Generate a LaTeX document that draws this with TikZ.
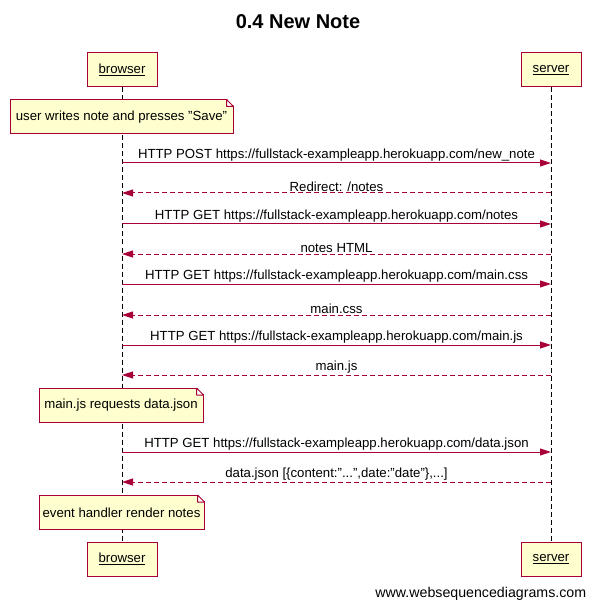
\documentclass[tikz,border=0pt]{standalone}
\usepackage{fontspec}
\setmainfont{Liberation Sans}
\usetikzlibrary{arrows.meta,backgrounds}
\definecolor{wsdred}{HTML}{A80036}
\definecolor{wsdfill}{HTML}{FEFECE}

% cut and fold the top right corner of a note node
\newcommand{\notefold}[1]{%
  \fill[white] ([xshift=-7pt,yshift=1pt]#1.north east) -- ([xshift=1pt,yshift=1pt]#1.north east)
    -- ([xshift=1pt,yshift=-7pt]#1.north east) -- cycle;
  \draw[wsdred, fill=white, line join=bevel] ([xshift=-7pt]#1.north east) -- ([yshift=-7pt]#1.north east)
    -| ([xshift=-7pt]#1.north east);}

\begin{document}
\begin{tikzpicture}[
  x=1pt, y=-1pt, line width=1pt,
  font=\fontsize{13.2pt}{15pt}\selectfont,
  actor/.style={draw=wsdred, fill=wsdfill, minimum height=34pt, inner sep=0pt},
  note/.style={draw=wsdred, fill=wsdfill, minimum height=34pt, inner sep=0pt},
  life/.style={dash pattern=on 5pt off 3pt},
  msg/.style={wsdred, -{Triangle[length=11pt, width=7pt]}},
  ret/.style={msg, dash pattern=on 5pt off 3pt},
  lbl/.style={above, inner sep=1pt, text=black}
]
\useasboundingbox (0,0) rectangle (595,609);

% Title
\node[font=\bfseries\fontsize{20pt}{24pt}\selectfont] (title) at (298,22) {0.4 New Note};

% Participants
\node[actor, minimum width=70pt] (btop) at (122,70) {\underline{browser}};
\node[actor, minimum width=60pt] (stop) at (551,70) {\underline{server}};
\node[actor, minimum width=70pt] (bbot) at (122,559) {\underline{browser}};
\node[actor, minimum width=60pt] (sbot) at (551,559) {\underline{server}};

% Lifelines
\begin{scope}[on background layer]
\draw[life, line width=1pt] (btop.south) -- (bbot.north);
\draw[life, line width=1pt] (stop.south) -- (sbot.north);
\end{scope}

% Message points on the lifelines
\foreach \n/\y in {1/163, 2/193, 3/224, 4/254, 5/284, 6/315, 7/345, 8/375, 9/452, 10/482} {
  \coordinate (b\n) at (122,\y);
  \coordinate (s\n) at (551,\y);
}

% Notes
\node[note, minimum width=223pt] (save) at (121.5,117) {user writes note and presses "Save"};
\notefold{save}
\node[note, minimum width=164pt] (req) at (121,405.5) {main.js requests data.json};
\notefold{req}
\node[note, minimum width=165pt] (render) at (121.5,512.5) {event handler render notes};
\notefold{render}

% Messages
\draw[msg] (b1) -- node[lbl] {HTTP POST https://fullstack-exampleapp.herokuapp.com/new\_note} (s1);
\draw[ret] (s2) -- node[lbl] {Redirect: /notes} (b2);
\draw[msg] (b3) -- node[lbl] {HTTP GET https://fullstack-exampleapp.herokuapp.com/notes} (s3);
\draw[ret] (s4) -- node[lbl] {notes HTML} (b4);
\draw[msg] (b5) -- node[lbl] {HTTP GET https://fullstack-exampleapp.herokuapp.com/main.css} (s5);
\draw[ret] (s6) -- node[lbl] {main.css} (b6);
\draw[msg] (b7) -- node[lbl] {HTTP GET https://fullstack-exampleapp.herokuapp.com/main.js} (s7);
\draw[ret] (s8) -- node[lbl] {main.js} (b8);
\draw[msg] (b9) -- node[lbl] {HTTP GET https://fullstack-exampleapp.herokuapp.com/data.json} (s9);
\draw[ret] (s10) -- node[lbl] {data.json [\{content:"...",date:"date"\},...]} (b10);

% Footer
\node[anchor=east, font=\fontsize{14.2pt}{16pt}\selectfont] (site) at (590,594) {www.websequencediagrams.com};
\end{tikzpicture}
\end{document}
